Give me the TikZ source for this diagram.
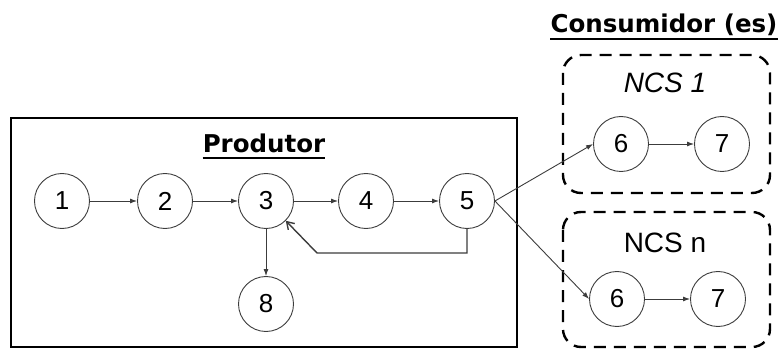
\documentclass[tikz,border=0pt]{standalone}
\usepackage{fontspec}
\setmainfont{Liberation Sans}
\newfontfamily\headfont{DejaVu Sans}
\usetikzlibrary{arrows.meta,calc}
\definecolor{wire}{HTML}{3C3C3C}
\tikzset{
  state/.style={circle,draw=wire,line width=0.9pt,minimum size=55pt,inner sep=0pt,
                font=\fontsize{26}{26}\selectfont},
  flow/.style={draw=wire,line width=0.9pt,-{Latex[length=7pt,width=5pt]}},
  backflow/.style={draw=wire,line width=1.4pt,-{Straight Barb[length=7pt,width=9pt]}},
  group/.style={draw=black,line width=2.4pt,dash pattern=on 12pt off 8pt,rounded corners=18pt},
  heading/.style={font=\headfont\bfseries\fontsize{24.5}{24.5}\selectfont,inner sep=0pt,anchor=base},
  sublabel/.style={font=\fontsize{28}{28}\selectfont,inner sep=0pt,anchor=base},
}
\begin{document}
\begin{tikzpicture}[x=1pt,y=-1pt]
\useasboundingbox (0,0) rectangle (780,350);
% producer frame
\draw[line width=2pt] (11,118) rectangle (517,347);
\node[heading] (prodt) at (264,153) {Produtor};
\draw[line width=2.5pt] ($(prodt.base west)+(0,5)$) -- ($(prodt.base east)+(0,5)$);
% consumer groups
\draw[group] (563,55) rectangle (770,193);
\draw[group] (563,212) rectangle (770,347);
\node[heading] (cont) at (664,33) {Consumidor (es)};
\draw[line width=2.5pt] ($(cont.base west)+(0,6)$) -- ($(cont.base east)+(0,6)$);
\node[sublabel] (ncs1) at (665,93) {\itshape NCS 1};
\node[sublabel] (ncsn) at (665,252) {NCS n};
% producer states
\node[state] (p1) at (62,201) {1};
\node[state] (p2) at (165,201) {2};
\node[state] (p3) at (266,201) {3};
\node[state] (p4) at (366,201) {4};
\node[state] (p5) at (467,201) {5};
\node[state] (p8) at (266,304) {8};
% consumer states
\node[state] (a6) at (621,144) {6};
\node[state] (a7) at (722,144) {7};
\node[state] (b6) at (617,299) {6};
\node[state] (b7) at (718,299) {7};
\coordinate (bend) at (317,253);
% connectors
\draw[flow] (p1) -- (p2);
\draw[flow] (p2) -- (p3);
\draw[flow] (p3) -- (p4);
\draw[flow] (p4) -- (p5);
\draw[flow] (p3) -- (p8);
\draw[backflow] (p5.south) |- (bend) -- (p3.-45);
\draw[flow] (p5.east) -- (a6.west);
\draw[flow] (p5.east) -- (b6.west);
\draw[flow] (a6) -- (a7);
\draw[flow] (b6) -- (b7);
\end{tikzpicture}
\end{document}
